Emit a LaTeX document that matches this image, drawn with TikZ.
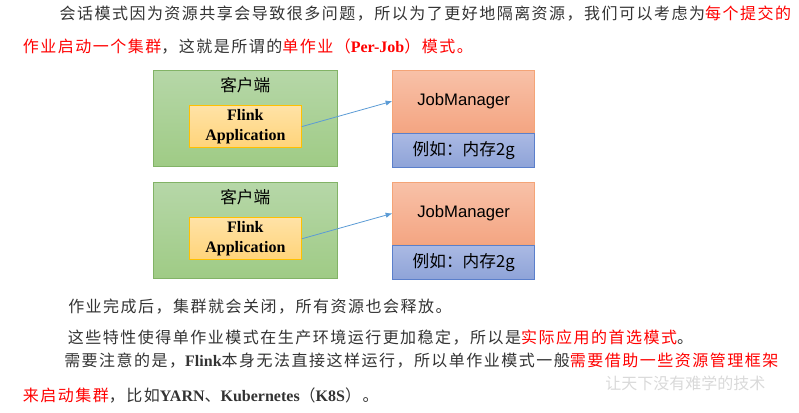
\documentclass[tikz,border=0pt]{standalone}
\usepackage{fontspec}
\setmainfont{Liberation Serif}
\newfontfamily\cjk{Noto Sans CJK SC}
\newfontfamily\cjkpar[LetterSpace=9.3]{Noto Sans CJK SC}
\newfontfamily\arial{Liberation Sans}
\usetikzlibrary{positioning,arrows.meta}

\definecolor{txtgray}{HTML}{333333}
\definecolor{grline}{HTML}{82B366}
\definecolor{grtop}{HTML}{B6D7A8}
\definecolor{grbot}{HTML}{9FCB85}
\definecolor{yeline}{HTML}{FFC000}
\definecolor{yetop}{HTML}{FFE2A6}
\definecolor{yebot}{HTML}{FFD47A}
\definecolor{orline}{HTML}{F4A477}
\definecolor{ortop}{HTML}{F8C1A8}
\definecolor{orbot}{HTML}{F4A582}
\definecolor{blline}{HTML}{5B7FCB}
\definecolor{bltop}{HTML}{AAB9E3}
\definecolor{blbot}{HTML}{8EA3D8}
\definecolor{arrowblue}{HTML}{5B9BD5}

\newcommand{\hl}[1]{\textcolor{red}{#1}}
\newcommand{\lat}[1]{{\rmfamily\bfseries #1}}

\tikzset{
  clientbox/.style={draw=grline, line width=0.75pt, top color=grtop, bottom color=grbot,
    minimum width=138.4pt, minimum height=72.4pt, anchor=north west, inner sep=0pt},
  captext/.style={inner sep=0pt, font=\cjk\fontsize{12.5}{15}\selectfont},
  appbox/.style={draw=yeline, line width=0.75pt, top color=yetop, bottom color=yebot,
    minimum width=83.8pt, minimum height=31.3pt, anchor=north west, inner sep=0pt,
    align=center, font=\rmfamily\bfseries\fontsize{12}{15.5}\selectfont},
  jmbox/.style={draw=orline, line width=0.75pt, top color=ortop, bottom color=orbot,
    minimum width=106.3pt, minimum height=46.8pt, anchor=north west, inner sep=0pt,
    font=\arial\fontsize{12.5}{15}\selectfont},
  membox/.style={draw=blline, line width=0.75pt, top color=bltop, bottom color=blbot,
    minimum width=106.3pt, minimum height=25.7pt, anchor=north, inner sep=0pt,
    font=\cjk\fontsize{12.5}{15}\selectfont},
  flow/.style={draw=arrowblue, line width=0.6pt, -{Latex[length=5pt,width=4pt]}},
  linetext/.style={anchor=base west, inner sep=0pt, text=txtgray,
    font=\cjkpar\fontsize{12}{14}\selectfont},
}

\begin{document}
\begin{tikzpicture}[x=0.75pt, y=-0.75pt]
\useasboundingbox (0,0) rectangle (799,412);

% text above
\node[linetext] (l1) at (59.3,19.5) {会话模式因为资源共享会导致很多问题，所以为了更好地隔离资源，我们可以考虑为\hl{每个提交的}};
\node[linetext] (l2) at (22.7,52) {\hl{作业启动一个集群}，这就是所谓的\hl{单作业（\lat{Per-Job}）模式。}};

% the two clusters
\foreach \r/\y in {1/69.5, 2/181.7} {
  \node[clientbox] (cl\r) at (152.5,\y) {};
  \node[captext] (cap\r) at ([yshift=-11.8pt]cl\r.north) {客户端};
  \node[appbox] (app\r) at ([xshift=27.4pt, yshift=-26.8pt]cl\r.north west) {Flink\\Application};
  \node[jmbox] (jm\r) at (392.3,\y) {JobManager};
  \node[membox] (mem\r) at (jm\r.south) {例如：内存2g};
  \draw[flow] (app\r.east) -- (jm\r.west);
}

% text below
\node[linetext] (la) at (68,312) {作业完成后，集群就会关闭，所有资源也会释放。};
\node[linetext] (lb) at (67.7,343) {这些特性使得单作业模式在生产环境运行更加稳定，所以是\hl{实际应用的首选模式}。};
\node[linetext] (lc) at (64,366) {需要注意的是，\lat{Flink}本身无法直接这样运行，所以单作业模式一般\hl{需要借助一些资源管理框架}};
\node[linetext] (ld) at (22.7,401) {\hl{来启动集群}，比如\lat{YARN}、\lat{Kubernetes}（\lat{K8S}）。};
\node[linetext, text=gray!30, font=\cjk\fontsize{12}{14}\selectfont] (wm) at (605,389) {让天下没有难学的技术};

\end{tikzpicture}
\end{document}
